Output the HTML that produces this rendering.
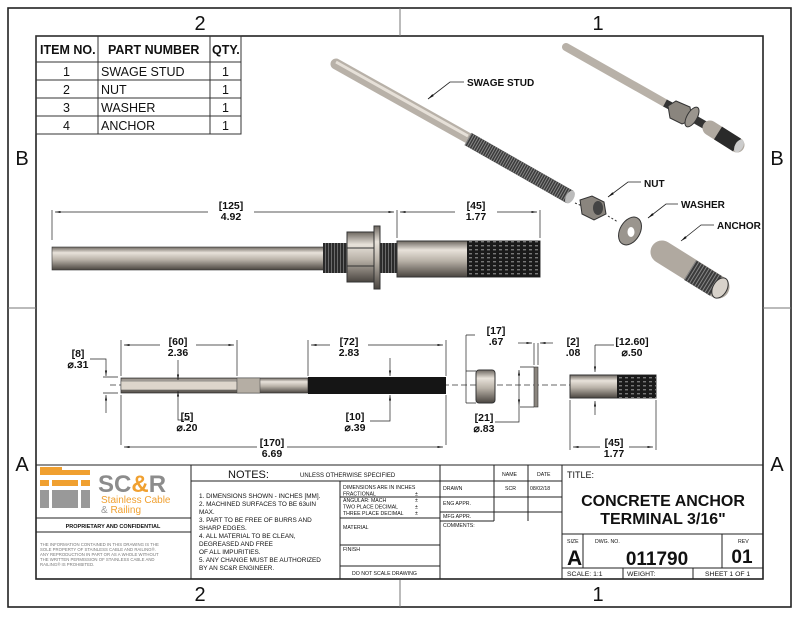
<!DOCTYPE html>
<html><head><meta charset="utf-8"><style>
html,body{margin:0;padding:0;background:#fff}
svg{display:block}
text{font-family:"Liberation Sans",Arial,sans-serif;fill:#111}
.b{font-weight:bold}
</style></head><body>
<svg width="800" height="618" viewBox="0 0 800 618" xmlns="http://www.w3.org/2000/svg">
<defs>
<linearGradient id="m" x1="0" y1="0" x2="0" y2="1">
<stop offset="0" stop-color="#6d6760"/><stop offset="0.25" stop-color="#e8e2da"/><stop offset="0.55" stop-color="#b9b2a8"/><stop offset="1" stop-color="#4a4540"/></linearGradient>
<linearGradient id="d" x1="0" y1="0" x2="0" y2="1">
<stop offset="0" stop-color="#222"/><stop offset="0.4" stop-color="#555"/><stop offset="1" stop-color="#111"/></linearGradient>
<pattern id="t" width="3" height="4" patternUnits="userSpaceOnUse"><rect width="3" height="4" fill="#2a2a2a"/><rect x="1" width="1" height="4" fill="#6a6a6a"/></pattern>
<pattern id="k" width="6" height="4" patternUnits="userSpaceOnUse"><rect width="6" height="4" fill="#1a1a1a"/><rect x="1" y="1" width="3" height="1.4" fill="#777"/></pattern>
<marker id="a" markerWidth="8" markerHeight="6" refX="8" refY="3" orient="auto-start-reverse"><path d="M0,1.5L8,3L0,4.5z" fill="#111"/></marker>
</defs>
<g fill="none" stroke="#222">
<rect x="8" y="8" width="783" height="599" stroke-width="1.6"/>
<rect x="36" y="36" width="727" height="543" stroke-width="1.6"/>
<path d="M400 8V36M400 579V607M8 308H36M763 308H791" stroke="#777"/>
</g>
<g font-size="20" text-anchor="middle"><text x="200" y="30">2</text><text x="598" y="30">1</text><text x="200" y="601">2</text><text x="598" y="601">1</text>
<text x="22" y="165">B</text><text x="777" y="165">B</text><text x="22" y="471">A</text><text x="777" y="471">A</text></g>
<!-- item table -->
<g fill="none" stroke="#333" stroke-width="1"><rect x="36" y="36" width="205" height="98"/>
<path d="M98 36V134M210 36V134M36 62H241M36 80H241M36 98H241M36 116H241"/></g>
<g font-size="12.5"><text class="b" x="40" y="54">ITEM NO.</text><text class="b" x="108" y="54">PART NUMBER</text><text class="b" x="212" y="54">QTY.</text>
<text x="63" y="76">1</text><text x="101" y="76">SWAGE STUD</text><text x="222" y="76">1</text>
<text x="63" y="94">2</text><text x="101" y="94">NUT</text><text x="222" y="94">1</text>
<text x="63" y="112">3</text><text x="101" y="112">WASHER</text><text x="222" y="112">1</text>
<text x="63" y="130">4</text><text x="101" y="130">ANCHOR</text><text x="222" y="130">1</text></g>
<!-- isometric exploded -->
<line x1="336" y1="64" x2="468" y2="138" stroke="#b8b1a8" stroke-width="11" stroke-linecap="round"/>
<line x1="336" y1="62" x2="468" y2="136" stroke="#e6e0d8" stroke-width="3"/>
<line x1="468" y1="139" x2="570" y2="197" stroke="#3a3a3a" stroke-width="14"/>
<line x1="468" y1="139" x2="570" y2="197" stroke="#888" stroke-width="14" stroke-dasharray="1 1.5"/>
<ellipse cx="570" cy="197" rx="4" ry="7" transform="rotate(30 570 197)" fill="#bbb"/>
<path d="M575 203L585 207" stroke="#333" stroke-dasharray="2 2"/>
<polygon points="580,200 592,196 604,202 606,214 594,220 582,214" fill="#8a857e" stroke="#333"/>
<ellipse cx="598" cy="208" rx="5" ry="7" fill="#444"/>
<path d="M608 216L618 222" stroke="#333" stroke-dasharray="2 2"/>
<ellipse cx="630" cy="231" rx="10" ry="15" transform="rotate(30 630 231)" fill="#9a958e" stroke="#333"/>
<ellipse cx="631" cy="232" rx="3.5" ry="5" fill="#fff"/>
<line x1="662" y1="252" x2="718" y2="287" stroke="#b0a9a0" stroke-width="23" stroke-linecap="round"/>
<line x1="690" y1="270" x2="716" y2="286" stroke="#3a3a3a" stroke-width="23"/>
<line x1="690" y1="270" x2="716" y2="286" stroke="#888" stroke-width="23" stroke-dasharray="1 2"/>
<ellipse cx="720" cy="288" rx="7" ry="11" transform="rotate(30 720 288)" fill="#d8d2ca" stroke="#333"/>
<!-- top right assembly -->
<line x1="566" y1="47" x2="665" y2="103" stroke="#b8b1a8" stroke-width="8" stroke-linecap="round"/>
<line x1="665" y1="103" x2="682" y2="112" stroke="#333" stroke-width="8"/>
<polygon points="668,106 676,101 690,107 692,120 682,124 670,118" fill="#8a857e" stroke="#333"/>
<ellipse cx="692" cy="117" rx="5" ry="11" transform="rotate(30 692 117)" fill="#9a958e" stroke="#333"/>
<line x1="696" y1="120" x2="710" y2="128" stroke="#333" stroke-width="8"/>
<line x1="710" y1="128" x2="737" y2="145" stroke="#b0a9a0" stroke-width="15" stroke-linecap="round"/>
<line x1="718" y1="133" x2="737" y2="145" stroke="#2a2a2a" stroke-width="15"/>
<ellipse cx="739" cy="146" rx="4" ry="7" transform="rotate(30 739 146)" fill="#ccc"/>
<!-- leaders -->
<g fill="none" stroke="#222" stroke-width="0.8">
<path d="M464 82H450L428 99" marker-end="url(#a)"/><path d="M641 182H628L608 197" marker-end="url(#a)"/>
<path d="M678 204H666L648 218" marker-end="url(#a)"/><path d="M714 225H701L681 241" marker-end="url(#a)"/></g>
<g font-size="10"><text class="b" x="467" y="86">SWAGE STUD</text><text class="b" x="644" y="187">NUT</text><text class="b" x="681" y="208">WASHER</text><text class="b" x="717" y="229">ANCHOR</text></g>
<!-- side assembly -->
<rect x="52" y="247" width="272" height="23" fill="url(#m)" stroke="#333" stroke-width=".6"/>
<rect x="323" y="243" width="25" height="30" fill="url(#t)"/>
<rect x="380" y="243" width="18" height="30" fill="url(#t)"/>
<rect x="347" y="232" width="28" height="50" fill="url(#m)" stroke="#333"/>
<path d="M347 248H375M347 266H375" stroke="#333"/>
<rect x="374" y="226" width="6" height="63" fill="url(#m)" stroke="#333"/>
<rect x="397" y="241" width="143" height="36" fill="url(#m)" stroke="#333"/>
<rect x="467" y="241" width="73" height="36" fill="url(#k)"/>
<g stroke="#222" stroke-width=".7" fill="none">
<path d="M52 210V240M397 210V238M540 210V238"/>
<path d="M55 212H208" marker-start="url(#a)"/><path d="M254 212H394" marker-end="url(#a)"/>
<path d="M400 212H455" marker-start="url(#a)"/><path d="M497 212H537" marker-end="url(#a)"/></g>
<g font-size="10.5" text-anchor="middle"><text class="b" x="231" y="209">[125]</text><text class="b" x="231" y="220">4.92</text>
<text class="b" x="476" y="209">[45]</text><text class="b" x="476" y="220">1.77</text></g>
<!-- section view -->
<line x1="110" y1="385" x2="570" y2="385" stroke="#333" stroke-width=".7" stroke-dasharray="6 3"/>
<rect x="121" y="378" width="187" height="15" fill="url(#m)" stroke="#333" stroke-width=".7"/>
<rect x="121" y="381" width="116" height="9" fill="#ddd6cc" stroke="#444" stroke-width=".5"/>
<rect x="237" y="378" width="23" height="15" fill="#b5aea4" stroke="#444" stroke-width=".5"/>
<rect x="308" y="377" width="138" height="17" fill="#151515"/>
<rect x="476" y="370" width="19" height="33" rx="3" fill="url(#m)" stroke="#333"/>
<rect x="534" y="367" width="4" height="40" fill="#8a857e" stroke="#333" stroke-width=".6"/>
<rect x="570" y="375" width="86" height="23" fill="url(#m)" stroke="#333"/>
<rect x="617" y="375" width="39" height="23" fill="url(#k)"/>
<g stroke="#222" stroke-width=".7" fill="none">
<path d="M121 340V376M237 340V376M308 340V376M446 340V376M121 395V445M446 395V445"/>
<path d="M124 345H160" marker-start="url(#a)"/><path d="M196 345H234" marker-end="url(#a)"/>
<path d="M311 345H330" marker-start="url(#a)"/><path d="M368 345H443" marker-end="url(#a)"/>
<path d="M124 447H257" marker-start="url(#a)"/><path d="M287 447H443" marker-end="url(#a)"/>
<path d="M90 359H106V376" marker-end="url(#a)"/><path d="M106 413V395" marker-end="url(#a)"/><path d="M103 377H118M103 393H118"/>
<path d="M178 360V380" marker-end="url(#a)"/><path d="M178 410V391" marker-end="url(#a)"/><path d="M178 410V420H190"/>
<path d="M390 358V376" marker-end="url(#a)"/><path d="M390 412V395" marker-end="url(#a)"/><path d="M390 412V421H370"/>
<path d="M466 335V403M466 335H475"/><path d="M466 371H476M466 403H476"/>
<path d="M518 343H532" marker-end="url(#a)"/><path d="M553 343H540" marker-end="url(#a)"/>
<path d="M534 343V365M538 343V365M520 367H534M520 407H534"/>
<path d="M519 370V405" marker-start="url(#a)" marker-end="url(#a)"/>
<path d="M519 405V422H495"/>
<path d="M595 345H614M595 345V372" marker-end="url(#a)"/><path d="M595 415V401" marker-end="url(#a)"/>
<path d="M570 400V450M656 400V450"/><path d="M573 447H600" marker-start="url(#a)"/><path d="M629 447H653" marker-end="url(#a)"/></g>
<g font-size="10.5" text-anchor="middle">
<text class="b" x="78" y="357">[8]</text><text class="b" x="78" y="368">⌀.31</text>
<text class="b" x="178" y="345">[60]</text><text class="b" x="178" y="356">2.36</text>
<text class="b" x="349" y="345">[72]</text><text class="b" x="349" y="356">2.83</text>
<text class="b" x="187" y="420">[5]</text><text class="b" x="187" y="431">⌀.20</text>
<text class="b" x="355" y="420">[10]</text><text class="b" x="355" y="431">⌀.39</text>
<text class="b" x="272" y="446">[170]</text><text class="b" x="272" y="457">6.69</text>
<text class="b" x="496" y="334">[17]</text><text class="b" x="496" y="345">.67</text>
<text class="b" x="573" y="345">[2]</text><text class="b" x="573" y="356">.08</text>
<text class="b" x="632" y="345">[12.60]</text><text class="b" x="632" y="356">⌀.50</text>
<text class="b" x="484" y="421">[21]</text><text class="b" x="484" y="432">⌀.83</text>
<text class="b" x="614" y="446">[45]</text><text class="b" x="614" y="457">1.77</text></g>
<!-- title block -->
<g fill="none" stroke="#222" stroke-width="1">
<rect x="36" y="465" width="727" height="114"/>
<path d="M36 518H191M36 532H191M191 465V579M191 481H562M340 481V579M340 497H440M340 518H440M340 545H440M340 566H440M440 465V579M494 465V521M528 465V521M440 481H562M440 497H562M440 512H562M440 521H494M562 465V579M562 534H763M562 568H763M583 534V568M722 534V568M623 568V579M693 568V579"/></g>
<rect x="40" y="467" width="22" height="5" fill="#f0a030"/>
<rect x="40" y="470" width="50" height="5" fill="#f0a030"/>
<rect x="52" y="480" width="26" height="6" fill="#f0a030"/><rect x="40" y="480" width="9" height="6" fill="#f0a030"/><rect x="81" y="480" width="9" height="6" fill="#f0a030"/>
<rect x="40" y="490" width="9" height="18" fill="#999"/><rect x="52" y="490" width="26" height="18" fill="#999"/><rect x="81" y="490" width="9" height="18" fill="#999"/>
<text x="98" y="492" font-size="24" class="b" style="fill:#8c8c8c">SC<tspan style="fill:#f0a030">&amp;</tspan>R</text>
<text x="101" y="503" font-size="10" style="fill:#f0a030">Stainless Cable</text>
<text x="101" y="513" font-size="10" style="fill:#999">&amp; <tspan style="fill:#f0a030">Railing</tspan></text>
<text x="113" y="528" font-size="5.5" class="b" text-anchor="middle">PROPRIETARY AND CONFIDENTIAL</text>
<g font-size="4.3"><text x="40" y="546" style="fill:#777">THE INFORMATION CONTAINED IN THIS DRAWING IS THE</text><text x="40" y="551" style="fill:#777">SOLE PROPERTY OF STAINLESS CABLE AND RAILING®.</text><text x="40" y="556" style="fill:#777">ANY REPRODUCTION IN PART OR AS A WHOLE WITHOUT</text><text x="40" y="561" style="fill:#777">THE WRITTEN PERMISSION OF STAINLESS CABLE AND</text><text x="40" y="566" style="fill:#777">RAILING® IS PROHIBITED.</text></g>
<text x="228" y="478" font-size="11">NOTES:</text><text x="300" y="477" font-size="6">UNLESS OTHERWISE SPECIFIED</text>
<g font-size="6.4"><text x="199" y="498">1. DIMENSIONS SHOWN - INCHES [MM].</text><text x="199" y="506">2. MACHINED SURFACES TO BE 63uIN</text><text x="199" y="514">MAX.</text><text x="199" y="522">3. PART TO BE FREE OF BURRS AND</text><text x="199" y="530">SHARP EDGES.</text><text x="199" y="538">4. ALL MATERIAL TO BE CLEAN,</text><text x="199" y="546">DEGREASED AND FREE</text><text x="199" y="554">OF ALL IMPURITIES.</text><text x="199" y="562">5. ANY CHANGE MUST BE AUTHORIZED</text><text x="199" y="570">BY AN SC&amp;R ENGINEER.</text></g>
<g font-size="5.2"><text x="343" y="489">DIMENSIONS ARE IN INCHES</text><text x="343" y="495.5">FRACTIONAL</text><text x="415" y="495.5">±</text><text x="343" y="502">ANGULAR: MACH</text><text x="415" y="502">±</text><text x="343" y="508.5">TWO PLACE DECIMAL</text><text x="415" y="508.5">±</text><text x="343" y="515">THREE PLACE DECIMAL</text><text x="415" y="515">±</text>
<text x="343" y="529">MATERIAL</text><text x="343" y="551">FINISH</text><text x="352" y="575">DO NOT SCALE DRAWING</text>
<text x="443" y="490">DRAWN</text><text x="443" y="505">ENG APPR.</text><text x="443" y="518">MFG APPR.</text><text x="443" y="527">COMMENTS:</text>
<text x="502" y="476">NAME</text><text x="537" y="476">DATE</text><text x="505" y="490">SCR</text><text x="530" y="490">08/02/18</text>
<text x="567" y="543">SIZE</text><text x="595" y="543">DWG. NO.</text><text x="738" y="543">REV</text></g>
<text x="567" y="478" font-size="9">TITLE:</text>
<text x="663" y="506" font-size="16" class="b" text-anchor="middle">CONCRETE ANCHOR</text>
<text x="663" y="524" font-size="16" class="b" text-anchor="middle">TERMINAL 3/16"</text>
<text x="567" y="565" font-size="21" class="b">A</text>
<text x="657" y="565" font-size="19" class="b" text-anchor="middle">011790</text>
<text x="742" y="563" font-size="19" class="b" text-anchor="middle">01</text>
<g font-size="6.8"><text x="567" y="576">SCALE: 1:1</text><text x="627" y="576">WEIGHT:</text><text x="705" y="576">SHEET 1 OF 1</text></g>
</svg>
</body></html>
